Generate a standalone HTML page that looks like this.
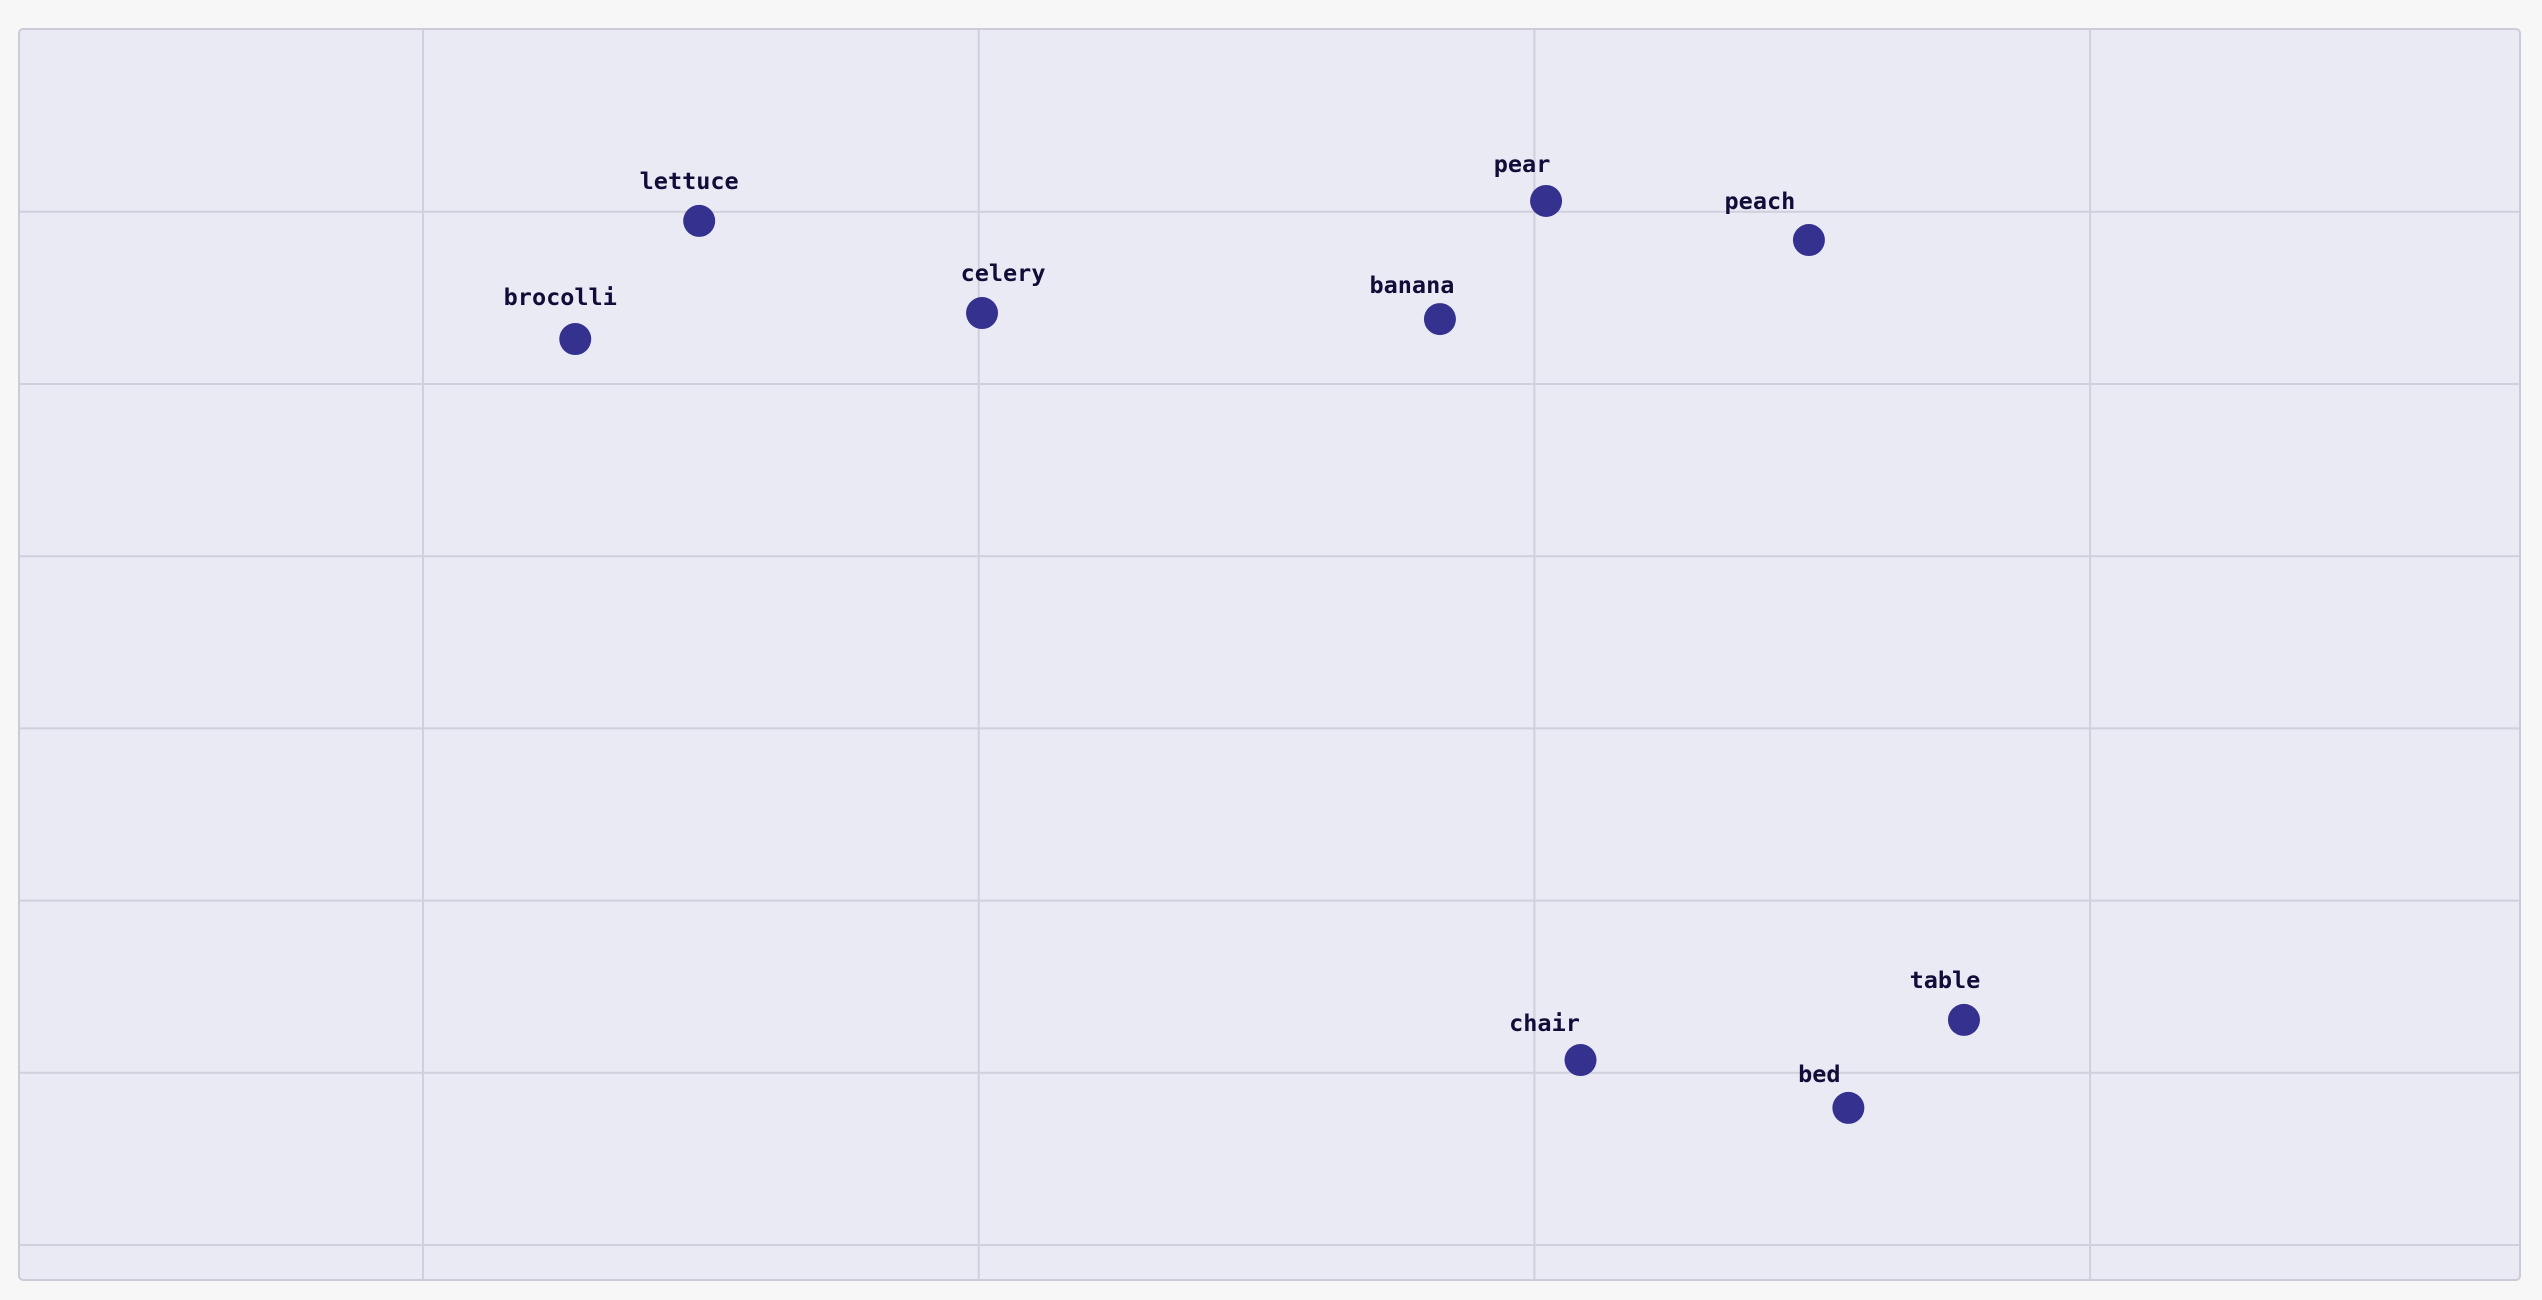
<!DOCTYPE html>
<html><head><meta charset="utf-8"><style>
html,body{margin:0;padding:0;background:#f7f7f7;width:2542px;height:1300px;overflow:hidden}
svg{display:block}
text{font-family:"DejaVu Sans Mono","Liberation Mono",monospace;font-weight:bold;font-size:23.5px;fill:#120c38}
</style></head><body>
<svg id="chart" width="2542" height="1300" xmlns="http://www.w3.org/2000/svg">
<rect x="19" y="29" width="2501" height="1251" rx="4" fill="#eaeaf5" stroke="#cbcbd9" stroke-width="2"/>
<g id="grid"></g><g id="marks"></g>
</svg>
<script>
const words = ["lettuce","brocolli","celery","banana","pear","peach","chair","bed","table"];
const xValues = [1.497,1.274,2.006,2.830,3.021,3.494,3.083,3.565,3.773];
const yValues = [5.947,5.261,5.412,5.377,6.063,5.836,1.074,0.796,1.307];
const xTicks = [1,2,3,4];
const yTicks = [0,1,2,3,4,5,6];
const labelDx = [-10,-15,21,-28,-24,-49,-36,-29,-19];
const labelDy = [-32,-34,-32,-26,-29,-31,-29,-26,-32];
const NS="http://www.w3.org/2000/svg";
function xs(v){return 423+(v-1)*555.7;}
function ys(v){return 1245-v*172.2;}
const grid=document.getElementById('grid'), marks=document.getElementById('marks');
xTicks.forEach(t=>{const l=document.createElementNS(NS,'line');
l.setAttribute('x1',xs(t));l.setAttribute('x2',xs(t));l.setAttribute('y1',30);l.setAttribute('y2',1279);
l.setAttribute('stroke','#cfcfdd');l.setAttribute('stroke-width','2');


grid.appendChild(l);});
yTicks.forEach(t=>{const l=document.createElementNS(NS,'line');
l.setAttribute('x1',20);l.setAttribute('x2',2519);l.setAttribute('y1',ys(t));l.setAttribute('y2',ys(t));
l.setAttribute('stroke','#cfcfdd');l.setAttribute('stroke-width','2');


grid.appendChild(l);});
words.forEach((w,i)=>{
const cx=xs(xValues[i]), cy=ys(yValues[i]);
const c=document.createElementNS(NS,'circle');
c.setAttribute('cx',cx);c.setAttribute('cy',cy);c.setAttribute('r',16);c.setAttribute('fill','#35318e');


marks.appendChild(c);
const t=document.createElementNS(NS,'text');
t.setAttribute('x',cx+labelDx[i]);t.setAttribute('y',cy+labelDy[i]);t.setAttribute('text-anchor','middle');
t.textContent=w;


marks.appendChild(t);
});
</script>
</body></html>
